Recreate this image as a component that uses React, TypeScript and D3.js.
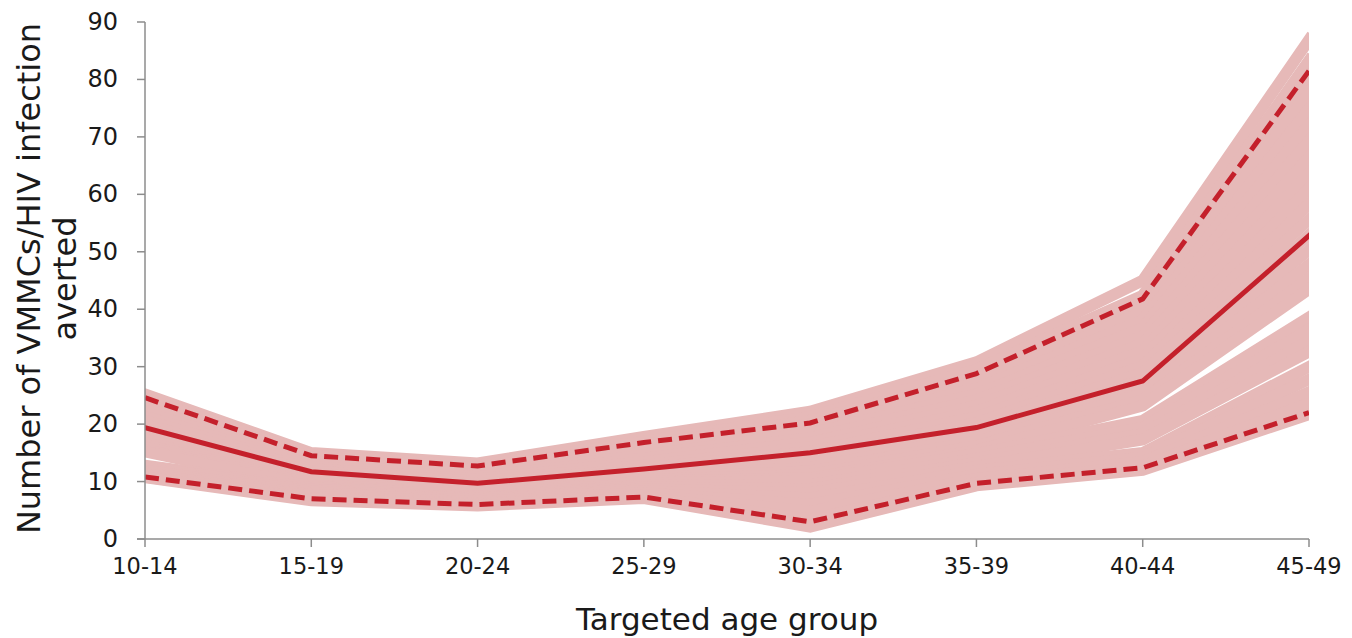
import React from "react";
import * as d3 from "d3";

const width = 1352;
const height = 638;

const ageGroups = ["10-14", "15-19", "20-24", "25-29", "30-34", "35-39", "40-44", "45-49"];
const yTicks = [0, 10, 20, 30, 40, 50, 60, 70, 80, 90];

// simulation runs (pink band), top to bottom
const simA1 = [25.2, 15, 13.2, 17.8, 22.2, 30.8, 45, 86.9];
const simA2 = [24.5, 14.6, 12.8, 17, 21.3, 29.5, 42.4, 83.3];
const simA3 = [23.6, 14.2, 12.4, 16.4, 20.6, 28.2, 40.9, 80.5];
const simA4 = [22.8, 13.8, 12, 15.8, 20, 27.2, 39.5, 77.7];
const simA5 = [22, 13.4, 11.6, 15.2, 19.2, 26.2, 38.1, 74.9];
const simA6 = [21.3, 13, 11.2, 14.6, 18.4, 25.2, 36.7, 72.1];
const simA7 = [20.6, 12.6, 10.8, 14, 17.6, 24.2, 35.3, 69.3];
const simA8 = [19.9, 12.2, 10.4, 13.4, 16.8, 23.2, 34, 66.5];
const simA9 = [19.2, 11.8, 10, 12.8, 16, 22.2, 32.7, 63.7];
const simA10 = [18.5, 11.4, 9.6, 12.3, 15.2, 21.2, 31.4, 61];
const simA11 = [17.8, 11, 9.3, 11.9, 14.4, 20.2, 30.1, 58.3];
const simA12 = [17.3, 10.7, 9.1, 11.6, 13.8, 19.4, 28.9, 55.6];
const simA13 = [16.8, 10.4, 8.8, 11.3, 13.1, 18.6, 27.7, 52.9];
const simA14 = [16.3, 10, 8.5, 10.9, 12.4, 17.8, 26.5, 50.3];
const simA15 = [15.9, 9.7, 8.3, 10.6, 11.8, 17, 25.3, 47.8];
const simA16 = [15.5, 9.4, 8.1, 10.3, 11.2, 16.2, 24.2, 45.4];
const simA17 = [15.2, 9.1, 7.9, 10, 10.6, 15.4, 23.2, 43.5];
const simB1 = [12.8, 8.9, 7.7, 9.7, 10.2, 14.8, 20.6, 38.6];
const simB2 = [12.5, 8.6, 7.4, 9.3, 9.4, 14, 19.4, 36.5];
const simB3 = [12.2, 8.3, 7.2, 9, 8.7, 13.3, 18.3, 34.5];
const simB4 = [11.9, 8, 7, 8.7, 8, 12.6, 17.3, 32.6];
const simC1 = [11.6, 7.7, 6.8, 8.4, 7.1, 11.9, 15, 30];
const simC2 = [11.3, 7.4, 6.5, 8, 6, 11.2, 14.2, 27.8];
const simC3 = [11, 7.1, 6.2, 7.7, 4.8, 10.5, 13.4, 25.6];
const simC4 = [10.8, 6.9, 6, 7.4, 3.4, 9.8, 12.7, 23.6];
const simC5 = [10.7, 6.7, 5.8, 7.1, 2.1, 9.3, 12, 21.7];
const sims = [
  simA1, simA2, simA3, simA4, simA5, simA6, simA7, simA8, simA9, simA10, simA11,
  simA12, simA13, simA14, simA15, simA16, simA17, simB1, simB2, simB3, simB4,
  simC1, simC2, simC3, simC4, simC5,
];

const median = [19.4, 11.7, 9.7, 12.2, 15.0, 19.4, 27.5, 52.8];
const upper = [24.6, 14.5, 12.7, 16.8, 20.2, 28.8, 41.8, 81.5];
const lower = [10.8, 7.0, 6.0, 7.3, 3.0, 9.7, 12.4, 22.0];

const font = "'DejaVu Sans', sans-serif";
const pink = "#e6b9b8";
const red = "#c4202b";
const axisGrey = "#8c8c8c";
const textColor = "#1a1a1a";

const margin = { left: 145, right: 43, top: 22, bottom: 99 };

export default function App() {
  const x = d3
    .scalePoint<string>()
    .domain(ageGroups)
    .range([margin.left, width - margin.right]);
  const y = d3
    .scaleLinear()
    .domain([0, 90])
    .range([height - margin.bottom, margin.top]);

  const line = d3
    .line<number>()
    .x((d, i) => x(ageGroups[i]) as number)
    .y((d) => y(d));

  const x0 = margin.left;
  const x1 = width - margin.right;
  const yBase = y(0);

  return (
    <svg width={width} height={height} style={{ position: "absolute", left: 0, top: 0 }}>
      <defs>
        <clipPath id="plot">
          <rect x={x0} y={0} width={x1 - x0} height={height} />
        </clipPath>
      </defs>
      <rect width={width} height={height} fill="#fff" />
      <g clipPath="url(#plot)">
        {sims.map((s, i) => (
          <path
            key={i}
            d={line(s) || ""}
            fill="none"
            stroke={pink}
            strokeWidth={11.5}
            strokeLinecap="square"
            strokeLinejoin="miter"
          />
        ))}
        <path d={line(upper) || ""} fill="none" stroke={red} strokeWidth={5} strokeDasharray="14,7" />
        <path d={line(lower) || ""} fill="none" stroke={red} strokeWidth={5} strokeDasharray="14,7" />
        <path d={line(median) || ""} fill="none" stroke={red} strokeWidth={5} strokeLinecap="square" />
      </g>

      {/* axes */}
      <line x1={x0} x2={x0} y1={y(90)} y2={yBase} stroke={axisGrey} strokeWidth={1.5} />
      <line x1={x0 - 8} x2={x1} y1={yBase} y2={yBase} stroke={axisGrey} strokeWidth={1.5} />
      {yTicks.map((t) => (
        <g key={t}>
          <line x1={x0 - 8} x2={x0} y1={y(t)} y2={y(t)} stroke={axisGrey} strokeWidth={1.5} />
          <text
            x={x0 - 27}
            y={y(t)}
            textAnchor="end"
            dominantBaseline="central"
            fontFamily={font}
            fontSize={24}
            fill={textColor}
          >
            {t}
          </text>
        </g>
      ))}
      {ageGroups.map((g) => (
        <g key={g}>
          <line x1={x(g)} x2={x(g)} y1={yBase} y2={yBase + 8} stroke={axisGrey} strokeWidth={1.5} />
          <text
            x={x(g)}
            y={yBase + 27}
            textAnchor="middle"
            dominantBaseline="central"
            fontFamily={font}
            fontSize={22.5}
            fill={textColor}
          >
            {g}
          </text>
        </g>
      ))}
      <text
        x={(x0 + x1) / 2}
        y={619}
        textAnchor="middle"
        dominantBaseline="central"
        fontFamily={font}
        fontSize={31}
        fill={textColor}
      >
        Targeted age group
      </text>
      <g transform={`translate(29, ${(y(0) + y(90)) / 2 - 2}) rotate(-90)`}>
        <text textAnchor="middle" dominantBaseline="central" fontFamily={font} fontSize={32} fill={textColor}>
          Number of VMMCs/HIV infection
        </text>
        <text y={36} textAnchor="middle" dominantBaseline="central" fontFamily={font} fontSize={32} fill={textColor}>
          averted
        </text>
      </g>
    </svg>
  );
}
